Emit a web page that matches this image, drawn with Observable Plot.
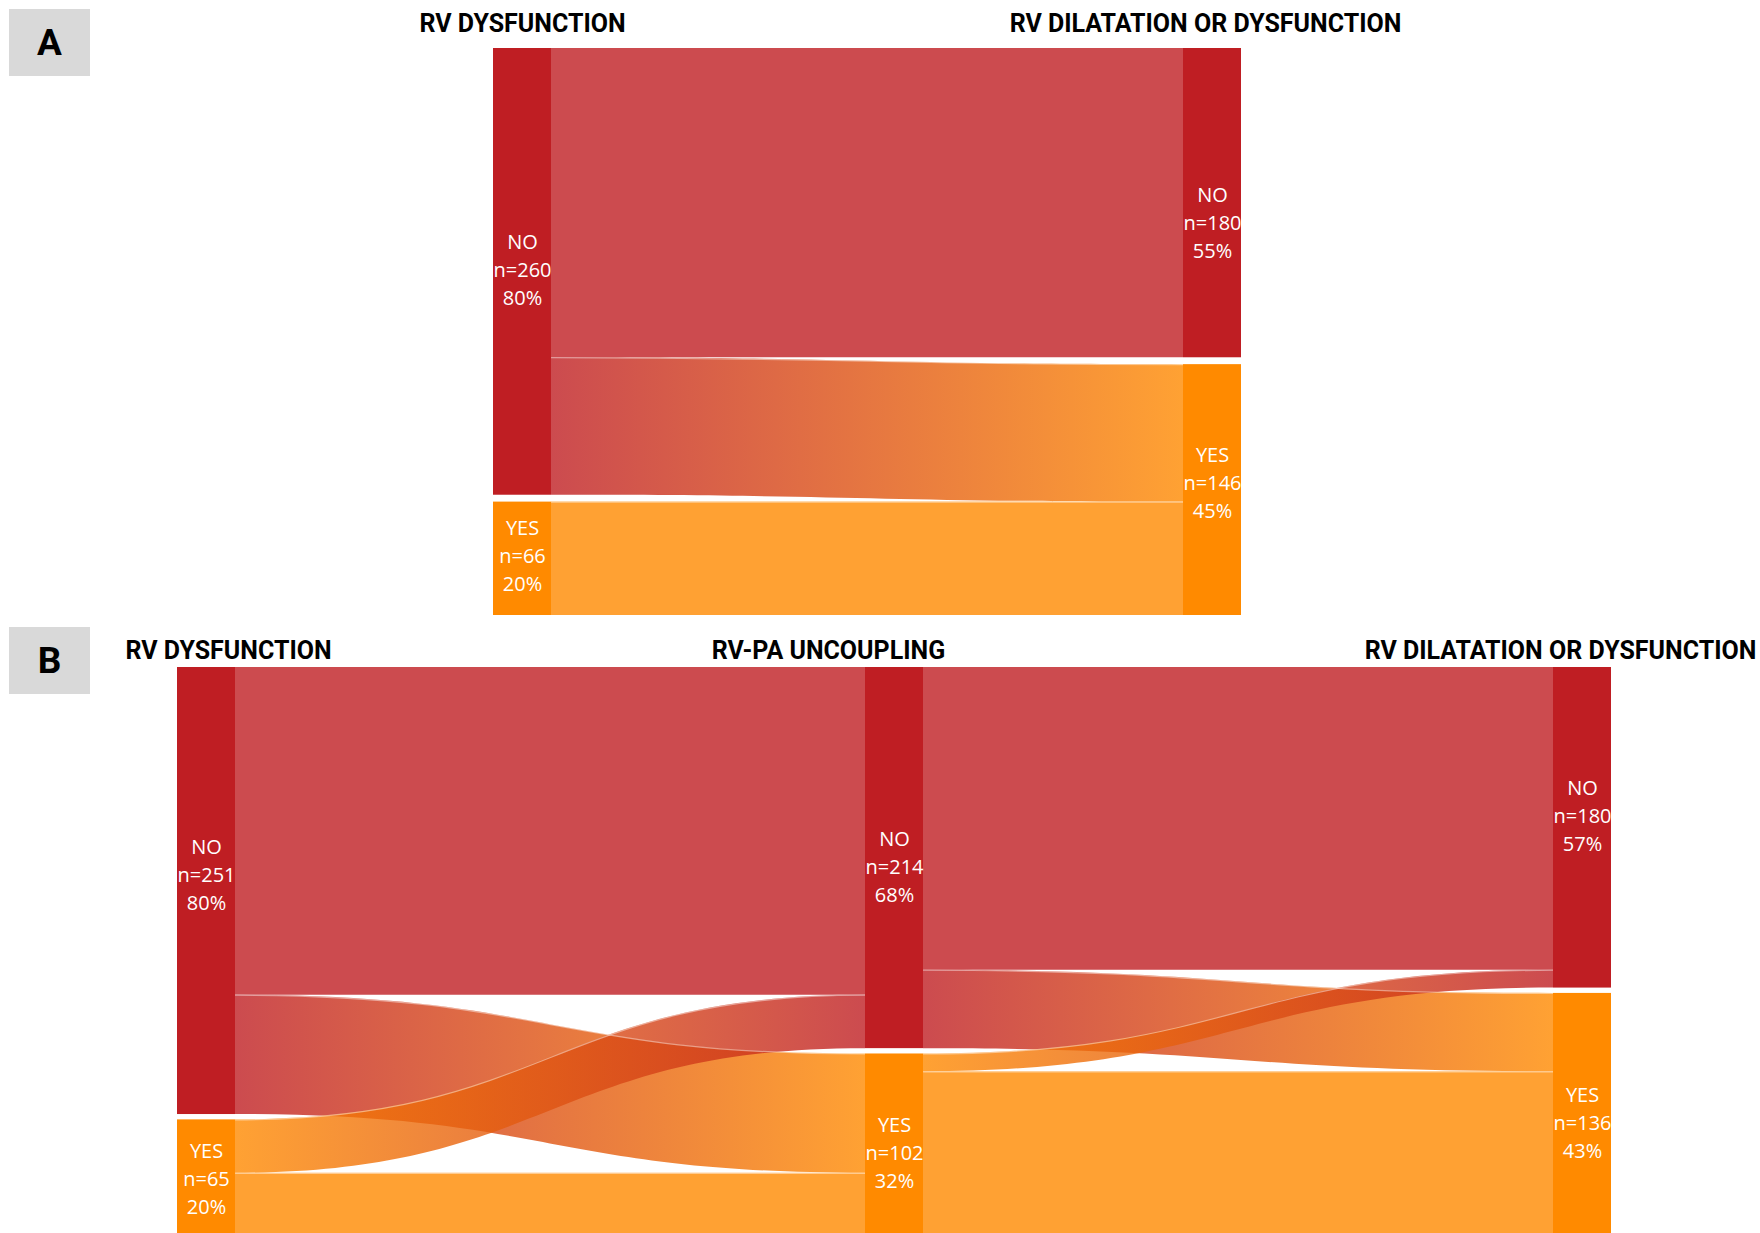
<!DOCTYPE html>
<html><head><meta charset="utf-8">
<script src="https://cdn.jsdelivr.net/npm/d3@7"></script>
<script src="https://cdn.jsdelivr.net/npm/@observablehq/plot@0.6"></script>
<style>
html,body{margin:0;padding:0;background:#fff;}
#page{position:relative;width:1760px;height:1233px;overflow:hidden;background:#fff;}
.tag{position:absolute;left:9px;width:81px;height:67px;background:#D9D9D9;display:flex;align-items:center;justify-content:center;font:bold 37px Roboto, sans-serif;color:#000;}
.panel{position:absolute;left:0;}
</style></head><body><div id="page">
<div class="tag" style="top:9px">A</div>
<div class="tag" style="top:627px">B</div>
<div class="panel" id="pA" style="top:0px"></div>
<div class="panel" id="pB" style="top:622px"></div>
</div>
<script>
// ---------------- DATA ----------------
const categories = ["NO", "YES"];

const stagesA = ["RV DYSFUNCTION", "RV DILATATION OR DYSFUNCTION"];
const countsA = [[260, 66], [180, 146]];
const percentsA = [[80, 20], [55, 45]];
const flowsA = [
  {stage: 0, source: "NO",  target: "NO",  value: 180},
  {stage: 0, source: "NO",  target: "YES", value: 80},
  {stage: 0, source: "YES", target: "YES", value: 66}
];

const stagesB = ["RV DYSFUNCTION", "RV-PA UNCOUPLING", "RV DILATATION OR DYSFUNCTION"];
const countsB = [[251, 65], [214, 102], [180, 136]];
const percentsB = [[80, 20], [68, 32], [57, 43]];
const flowsB = [
  {stage: 0, source: "NO",  target: "NO",  value: 184},
  {stage: 0, source: "NO",  target: "YES", value: 67},
  {stage: 0, source: "YES", target: "NO",  value: 30},
  {stage: 0, source: "YES", target: "YES", value: 35},
  {stage: 1, source: "NO",  target: "NO",  value: 170},
  {stage: 1, source: "NO",  target: "YES", value: 44},
  {stage: 1, source: "YES", target: "NO",  value: 10},
  {stage: 1, source: "YES", target: "YES", value: 92}
];

// ---------------- STYLE ----------------
const RED = "#BF1E23";
const ORANGE = "#FF8A00";
const catColor = {NO: RED, YES: ORANGE};

function sankeyPanel(cfg) {
  const {id, stages, counts, percents, flows, gap, xPx, nodePx, yTop, pxPerUnit, height, titleY, titleDx, labelDy} = cfg;
  const nS = stages.length;
  const spacing = (xPx[1] - xPx[0]);
  const w = nodePx / spacing;
  const nodes = [];
  counts.forEach((col, s) => {
    let y = 0;
    col.forEach((n, c) => {
      nodes.push({stage: s, cat: categories[c], n, pct: percents[s][c], y0: y, y1: y + n, out: y, inn: y, ldy: labelDy[s][c]});
      y += n + gap;
    });
  });
  const total = d3.max(nodes, d => d.y1);
  const find = (s, c) => nodes.find(d => d.stage === s && d.cat === c);
  const links = flows.map(f => {
    const a = find(f.stage, f.source), b = find(f.stage + 1, f.target);
    const l = {...f, sy: a.out, ty: b.inn};
    a.out += f.value; b.inn += f.value;
    l.pts = [
      {x: f.stage + w, top: l.sy, bot: l.sy + f.value},
      {x: f.stage + 1, top: l.ty, bot: l.ty + f.value}
    ];
    l.fill = f.source === f.target ? catColor[f.source] : `url(#${id}-${f.source}-${f.target})`;
    return l;
  });

  const marks = [];
  links.forEach(l => {
    marks.push(Plot.areaY(l.pts, {x: "x", y1: "top", y2: "bot", curve: "bump-x", fill: l.fill, fillOpacity: 0.8}));
  });
  links.forEach(l => {
    if (l.sy > 0 || l.ty > 0)
      marks.push(Plot.line(l.pts, {x: "x", y: "top", curve: "bump-x", stroke: "white", strokeOpacity: 0.45, strokeWidth: 1.2}));
  });
  marks.push(Plot.rect(nodes, {x1: d => d.stage, x2: d => d.stage + w, y1: "y0", y2: "y1", fill: "cat"}));
  marks.push(Plot.text(nodes, {
    x: d => d.stage + w / 2, y: d => (d.y0 + d.y1) / 2 + d.ldy / pxPerUnit,
    text: d => `${d.cat}\nn=${d.n}\n${d.pct}%`,
    fill: "white", fontSize: 20, lineHeight: 1.4, fontFamily: "Open Sans"
  }));
  stages.forEach((t, s) => {
    marks.push(Plot.text([{s, t}], {
      x: d => d.s + w / 2, y: () => titleY, text: "t", dx: titleDx[s],
      fontWeight: "bold", fontSize: 25, fontFamily: "Roboto", fill: "#000"
    }));
  });

  const svg = Plot.plot({
    width: 1760, height,
    style: {background: "transparent", overflow: "visible"},
    x: {domain: [0, nS - 1 + w], range: [xPx[0], xPx[0] + spacing * (nS - 1) + nodePx], axis: null},
    y: {domain: [0, total], range: [yTop, yTop + total * pxPerUnit], axis: null},
    color: {domain: categories, range: [RED, ORANGE]},
    marks
  });
  const defs = document.createElementNS("http://www.w3.org/2000/svg", "defs");
  defs.innerHTML = `
    <linearGradient id="${id}-NO-YES" x1="0" x2="1" y1="0" y2="0"><stop offset="0" stop-color="${RED}"/><stop offset="1" stop-color="${ORANGE}"/></linearGradient>
    <linearGradient id="${id}-YES-NO" x1="0" x2="1" y1="0" y2="0"><stop offset="0" stop-color="${ORANGE}"/><stop offset="1" stop-color="${RED}"/></linearGradient>`;
  svg.prepend(defs);
  document.getElementById(id).appendChild(svg);
}

sankeyPanel({
  id: "pA", stages: stagesA, counts: countsA, percents: percentsA, flows: flowsA,
  gap: 4, xPx: [493, 1183], nodePx: 58, yTop: 48, pxPerUnit: 567 / 330, height: 622,
  titleY: -14.5, titleDx: [0, -7],
  labelDy: [[-3.5, -4.5], [18, -9]]
});
sankeyPanel({
  id: "pB", stages: stagesB, counts: countsB, percents: percentsB, flows: flowsB,
  gap: 3, xPx: [177, 865], nodePx: 58, yTop: 45, pxPerUnit: 1.781, height: 611,
  titleY: -9.5, titleDx: [22, -66, -22],
  labelDy: [[-18, -1], [7, 6], [-13.5, 7]]
});
</script>
</body></html>
